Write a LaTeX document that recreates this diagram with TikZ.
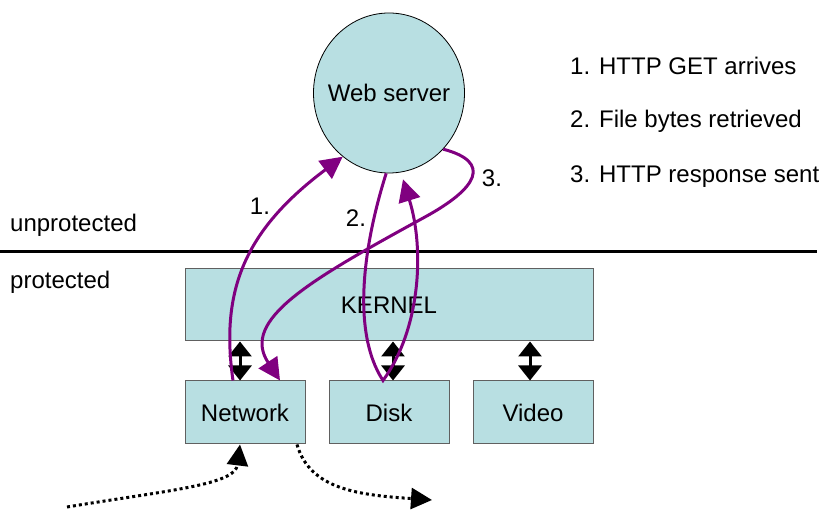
\documentclass[tikz,border=0pt]{standalone}
\usepackage{fontspec}
\setmainfont{Liberation Sans}
\definecolor{boxfill}{HTML}{B8DFE2}
\definecolor{boxline}{HTML}{606060}
\definecolor{flowpurple}{HTML}{800080}
\usetikzlibrary{shapes.geometric,arrows.meta,positioning,calc}

\begin{document}
\begin{tikzpicture}[x=1pt, y=-1pt,
  part/.style={draw=boxline, fill=boxfill, line width=1pt,
    font=\fontsize{24}{28}\selectfont, minimum width=120pt, minimum height=63pt},
  label/.style={font=\fontsize{24}{28}\selectfont, inner sep=0pt},
  flow/.style={-{Triangle[length=22pt, width=22pt]}, flowpurple, line width=3pt},
  link/.style={{Triangle[length=15pt, width=23pt]}-{Triangle[length=15pt, width=23pt]}, line width=3pt},
  wire/.style={-{Triangle[length=21pt, width=21pt]}, line width=3pt, dash pattern=on 3pt off 3pt}
]
  \useasboundingbox (0,0) rectangle (823,510);

  % Web server on top
  \node[ellipse, draw, fill=boxfill, line width=0.8pt, minimum width=151pt,
    minimum height=160pt, inner sep=0pt] (server) at (389,93) {};
  \node[label] (srvname) at (server.center) {Web server};

  % Boundary line
  \coordinate (lineL) at (0,252);
  \coordinate (lineR) at (817,252);
  \draw[line width=3pt] (lineL) -- (lineR);
  \node[label, anchor=west] (unprot) at (10,225) {unprotected};
  \node[label, anchor=west] (prot) at (10,282) {protected};

  % Kernel and devices
  \node[part, minimum width=408pt, minimum height=72pt] (kernel) at (389,305) {KERNEL};
  \node[part] (net) at (245,412.5) {Network};
  \node[part] (disk) at (389,412.5) {Disk};
  \node[part] (video) at (533,412.5) {Video};

  % Kernel <-> device arrows
  \draw[link] ([xshift=-5pt]net.north) -- ([xshift=-5pt]net.north |- kernel.south);
  \draw[link] ([xshift=4pt]disk.north) -- ([xshift=4pt]disk.north |- kernel.south);
  \draw[link] ([xshift=-3pt]video.north) -- ([xshift=-3pt]video.north |- kernel.south);

  % Request flow
  \draw[flow] ([xshift=-12pt]net.north) .. controls (220,290) and (245,230) .. (server.234);
  \node[label] (one) at (260,206) {1.};
  \draw[flow] (server.268) .. controls (365,240) and (350,330) .. ([xshift=-6pt]disk.north)
    .. controls (420,330) and (425,250) .. ([shift={(14,6)}]server.south);
  \node[label] (two) at (356,218) {2.};
  \draw[flow] (server.314) .. controls (492,162) and (478,188) .. (425,217)
    .. controls (310,280) and (240,320) .. ([xshift=35pt]net.north);
  \node[label] (three) at (492,178) {3.};

  % Packets in and out
  \coordinate (pktin) at (67,507);
  \coordinate (pktout) at (432,500);
  \draw[wire] (pktin) .. controls (170,490) and (235,485) .. ([xshift=-5pt]net.south);
  \draw[wire] ([xshift=52pt]net.south) .. controls (310,490) and (360,495) .. (pktout);

  % Legend
  \node[label, anchor=west] (step1) at (570,66) {1. HTTP GET arrives};
  \node[label, anchor=west] (step2) at (570,121) {2. File bytes retrieved};
  \node[label, anchor=west] (step3) at (570,177) {3. HTTP response sent};
\end{tikzpicture}
\end{document}
